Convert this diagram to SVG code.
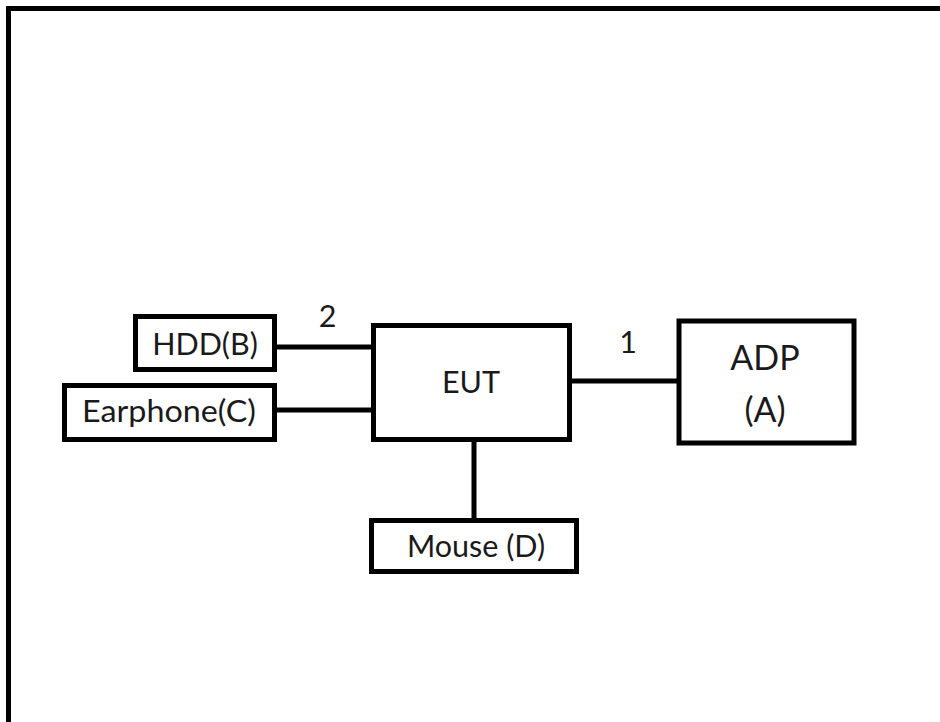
<svg xmlns="http://www.w3.org/2000/svg" width="940" height="722" viewBox="0 0 940 722">
<style>
.box{fill:#fff;stroke:#000;stroke-width:5}
.wire{stroke:#000;stroke-width:5;fill:none}
text{font-family:Lato,"Open Sans","Liberation Sans",sans-serif;fill:#1a1a1a;text-anchor:middle}
.t{font-size:30.5px}
.big{font-size:34px}
</style>
<rect width="940" height="722" fill="#fff"/>
<g id="frame"><path d="M8.5,722 V8.5 H940" fill="none" stroke="#000" stroke-width="5"/></g>
<g id="connectors">
<line class="wire" x1="276" y1="347" x2="374" y2="347"/>
<line class="wire" x1="276" y1="410" x2="374" y2="410"/>
<line class="wire" x1="570" y1="381" x2="679" y2="381"/>
<line class="wire" x1="474" y1="440" x2="474" y2="520"/>
<text class="t" x="327.5" y="327">2</text>
<text class="t" x="628" y="353">1</text>
</g>
<g id="hdd"><rect class="box" x="135.5" y="316.5" width="139" height="53"/><text class="t" x="205" y="355">HDD(B)</text></g>
<g id="earphone"><rect class="box" x="64.5" y="385.5" width="210" height="54"/><text class="t" x="169" y="422" textLength="174" lengthAdjust="spacingAndGlyphs">Earphone(C)</text></g>
<g id="eut"><rect class="box" x="373.5" y="325.5" width="196" height="114"/><text class="t" x="471" y="393">EUT</text></g>
<g id="adp"><rect class="box" x="679" y="321" width="175" height="122" stroke-width="6"/><text class="big" x="765" y="370">ADP</text><text class="big" x="765" y="422">(A)</text></g>
<g id="mouse"><rect class="box" x="371.5" y="520.5" width="205" height="51"/><text class="t" x="476" y="557">Mouse (D)</text></g>
</svg>
